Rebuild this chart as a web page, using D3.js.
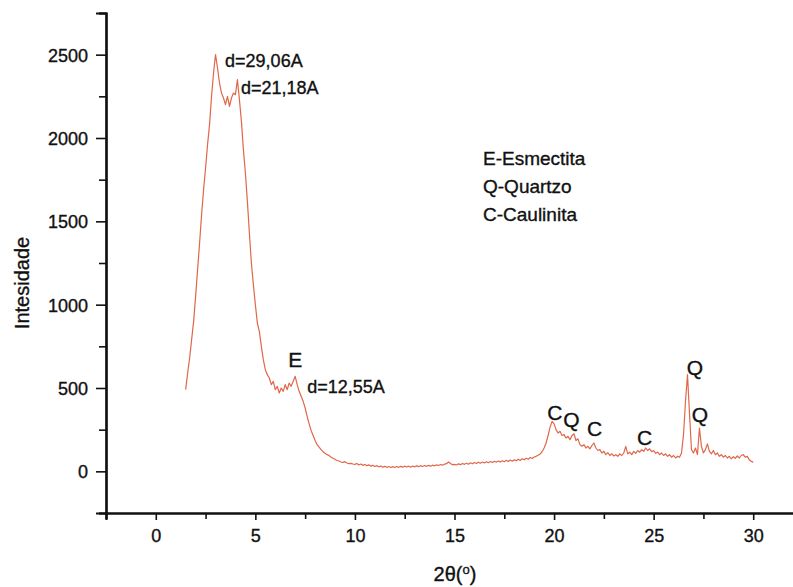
<!DOCTYPE html>
<html>
<head>
<meta charset="utf-8">
<script src="https://cdn.jsdelivr.net/npm/d3@7"></script>
<style>
  html, body { margin: 0; padding: 0; background: #fff; }
  svg { display: block; font-family: "Liberation Sans", Arial, sans-serif; }
  text { stroke: #111; stroke-width: 0.35px; }
</style>
</head>
<body>
<svg id="chart" width="793" height="587"></svg>
<script>
// XRD scan: intensity sampled every 0.1° of 2θ, from 1.5° to 30.0°
const scanStart = 1.5;
const scanStep = 0.1;
const intensity = [
  490, 590, 680, 790, 900,
  1050, 1210, 1370, 1540, 1690, 1820, 1960, 2080, 2250, 2390,
  2500, 2420, 2330, 2270, 2240, 2200, 2250, 2190, 2240, 2270,
  2260, 2350, 2230, 2100, 1930, 1790, 1620, 1430, 1250, 1120,
  1000, 890, 840, 750, 670, 610, 580, 560, 520, 540,
  490, 510, 470, 500, 480, 520, 490, 530, 510, 540,
  570, 520, 480, 450, 420, 380, 330, 285, 245, 215,
  185, 160, 145, 130, 118, 108, 100, 95, 85, 78,
  72, 65, 62, 56, 54, 58, 50, 46, 48, 44,
  42, 47, 38, 44, 36, 41, 34, 39, 31, 36,
  29, 34, 27, 32, 25, 30, 24, 29, 23, 28,
  23, 29, 24, 30, 25, 31, 26, 31, 25, 32,
  27, 33, 28, 34, 29, 35, 30, 36, 31, 37,
  33, 39, 35, 41, 37, 43, 46, 56, 47, 39,
  42, 38, 45, 40, 47, 42, 49, 43, 51, 45,
  53, 47, 55, 49, 56, 50, 58, 52, 59, 53,
  61, 55, 62, 56, 64, 58, 66, 59, 68, 61,
  70, 63, 73, 65, 75, 69, 79, 72, 83, 77,
  86, 90, 96, 104, 118, 140, 170, 215, 265, 300,
  285, 250, 230, 240, 215, 220, 200, 210, 190, 215,
  225, 185, 195, 160, 150, 160, 140, 150, 135, 155,
  170, 140, 125, 130, 110, 120, 100, 112, 95, 105,
  92, 100, 90, 104, 95, 110, 150, 105, 115, 100,
  120, 108, 125, 115, 130, 120, 140, 125, 135, 118,
  125, 108, 115, 100, 110, 95, 105, 90, 100, 85,
  95, 80, 90, 85, 110, 220, 420, 580, 350, 130,
  110, 140, 100, 260, 150, 110, 130, 165, 120, 105,
  125, 100, 110, 90, 100, 85, 95, 80, 90, 75,
  88, 78, 92, 80, 95, 100, 85, 90, 70, 60,
  55
];

// Axis ranges and ticks
const xDomain = [-2.5, 32.5];
const yDomain = [-250, 2750];
const xMajorTicks = [0, 5, 10, 15, 20, 25, 30];
const xMinorTicks = [-2.5, 2.5, 7.5, 12.5, 17.5, 22.5, 27.5, 32.5];
const yMajorTicks = [0, 500, 1000, 1500, 2000, 2500];
const yMinorTicks = [-250, 250, 750, 1250, 1750, 2250, 2750];

// Peak annotations anchored at (2θ, intensity)
const peakLabels = [
  { x: 3.48, y: 2428, text: "d=29,06A", kind: "d" },
  { x: 4.28, y: 2266, text: "d=21,18A", kind: "d" },
  { x: 7.0, y: 627, text: "E", kind: "phase" },
  { x: 7.6, y: 469, text: "d=12,55A", kind: "d" },
  { x: 20.04, y: 306, text: "C", kind: "phase" },
  { x: 20.87, y: 264, text: "Q", kind: "phase" },
  { x: 22.03, y: 210, text: "C", kind: "phase" },
  { x: 24.54, y: 156, text: "C", kind: "phase" },
  { x: 27.07, y: 577, text: "Q", kind: "phase" },
  { x: 27.32, y: 294, text: "Q", kind: "phase" }
];
const legendLines = ["E-Esmectita", "Q-Quartzo", "C-Caulinita"];

const svg = d3.select("#chart");
const plotLeft = 106, plotRight = 803, plotTop = 13, plotBottom = 513;

const x = d3.scaleLinear().domain(xDomain).range([plotLeft, plotRight]);
const y = d3.scaleLinear().domain(yDomain).range([plotBottom, plotTop]);

const scan = intensity.map((v, i) => ({ t: scanStart + i * scanStep, v }));

// Diffraction trace
svg.append("path")
  .datum(scan)
  .attr("fill", "none")
  .attr("stroke", "#e0674a")
  .attr("stroke-width", 1.2)
  .attr("stroke-linejoin", "round")
  .attr("d", d3.line().x(d => x(d.t)).y(d => y(d.v)));

// Minor ticks first so the axis line sits on top
const xMinor = svg.append("g").attr("transform", `translate(0,${plotBottom})`)
  .call(d3.axisBottom(x).tickValues(xMinorTicks).tickSize(6).tickFormat(""));
const yMinor = svg.append("g").attr("transform", `translate(${plotLeft},0)`)
  .call(d3.axisLeft(y).tickValues(yMinorTicks).tickSize(7).tickFormat(""));

const xAxis = svg.append("g").attr("transform", `translate(0,${plotBottom})`)
  .call(d3.axisBottom(x).tickValues(xMajorTicks).tickSize(7).tickPadding(9).tickFormat(d3.format("d")));
const yAxis = svg.append("g").attr("transform", `translate(${plotLeft},0)`)
  .call(d3.axisLeft(y).tickValues(yMajorTicks).tickSize(10).tickPadding(8).tickFormat(d3.format("d")));

[xMinor, yMinor, xAxis, yAxis].forEach(g => {
  g.select(".domain").attr("stroke", "#111").attr("stroke-width", 2.2);
  g.selectAll(".tick line").attr("stroke", "#111").attr("stroke-width", 1.6);
  g.selectAll(".tick text")
    .attr("fill", "#111")
    .style("font-size", "18px")
    .style("font-family", "'Liberation Sans', Arial, sans-serif");
});
yAxis.selectAll(".tick text").attr("dy", "0.36em");

// Axis titles
svg.append("text")
  .attr("transform", `translate(29,283) rotate(-90)`)
  .attr("text-anchor", "middle")
  .attr("fill", "#111")
  .style("font-size", "20px")
  .text("Intesidade");

const xt = svg.append("text")
  .attr("x", 455).attr("y", 581)
  .attr("text-anchor", "middle")
  .attr("fill", "#111")
  .style("font-size", "20px");
xt.append("tspan").text("2θ(");
xt.append("tspan").attr("dy", -7).style("font-size", "13px").text("o");
xt.append("tspan").attr("dy", 7).text(")");

// Peak labels
peakLabels.forEach(p => {
  const isD = p.kind === "d";
  svg.append("text")
    .attr("x", x(p.x))
    .attr("y", y(p.y))
    .attr("text-anchor", isD ? "start" : "middle")
    .attr("fill", "#111")
    .style("font-size", isD ? "18px" : "21px")
    .text(p.text);
});

// Phase key
svg.append("g").selectAll("text")
  .data(legendLines)
  .join("text")
  .attr("x", 483)
  .attr("y", (d, i) => 165 + i * 28)
  .attr("fill", "#111")
  .style("font-size", "19px")
  .text(d => d);
</script>
</body>
</html>
